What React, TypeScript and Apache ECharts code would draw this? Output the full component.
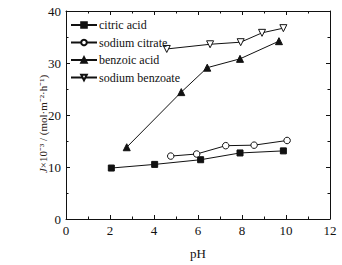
import React, { useEffect, useRef } from "react";
import * as echarts from "echarts";

const citricX = [2.06, 4.03, 6.12, 7.91, 9.88];
const citricY = [9.8, 10.5, 11.4, 12.7, 13.1];
const naCitrateX = [4.76, 5.94, 7.26, 8.55, 10.05];
const naCitrateY = [12.1, 12.5, 14.1, 14.2, 15.1];
const benzoicX = [2.76, 5.24, 6.42, 7.91, 9.68];
const benzoicY = [13.8, 24.4, 29.1, 30.8, 34.2];
const naBenzoateX = [4.58, 6.55, 7.94, 8.91, 9.88];
const naBenzoateY = [32.7, 33.6, 34.0, 35.8, 36.7];
const seriesNames = ["citric acid", "sodium citrate", "benzoic acid", "sodium benzoate"];

const zip = (xs: number[], ys: number[]) => xs.map((x, i) => [x, ys[i]]);

export default function App() {
  const ref = useRef<HTMLDivElement>(null);
  useEffect(() => {
    if (!ref.current) return;
    const chart = echarts.init(ref.current, undefined, { renderer: "svg" });
    const font = "Liberation Serif";
    const black = "#111";
    const axisCommon = {
      type: "value" as const,
      axisLine: { show: true, onZero: false, lineStyle: { color: black, width: 1 } },
      axisTick: { show: true, inside: true, length: 4, lineStyle: { color: black } },
      minorTick: { show: true, splitNumber: 2, length: 2.5, lineStyle: { color: black } },
      splitLine: { show: false },
    };
    const mk = (name: string, data: number[][], symbol: string, size: number, filled: boolean, rotate = 0) => ({
      name,
      type: "line" as const,
      data,
      symbol,
      symbolSize: size,
      symbolRotate: rotate,
      showAllSymbol: true,
      lineStyle: { color: black, width: 1 },
      itemStyle: { color: filled ? black : "#fff", borderColor: black, borderWidth: 1 },
      emphasis: { disabled: true },
    });
    chart.setOption({
      animation: false,
      textStyle: { fontFamily: font },
      grid: { left: 66, right: 12, top: 11, bottom: 41 },
      legend: {
        orient: "vertical",
        left: 70,
        top: 19,
        padding: 0,
        itemWidth: 26,
        itemHeight: 7,
        itemGap: 5.5,
        formatter: "{t|{name}}",
        textStyle: {
          fontFamily: font,
          fontSize: 12,
          color: black,
          rich: { t: { fontFamily: font, fontSize: 12, color: black, padding: [0, 0, 0, -3] } },
        },
        data: seriesNames,
      },
      xAxis: [
        {
          ...axisCommon,
          min: 0,
          max: 12,
          interval: 2,
          position: "bottom",
          axisLabel: { fontFamily: font, fontSize: 13, color: black, margin: 5 },
          name: "pH",
          nameLocation: "middle",
          nameGap: 28,
          nameTextStyle: { fontFamily: font, fontSize: 13, color: black },
        },
        {
          ...axisCommon,
          min: 0,
          max: 12,
          interval: 2,
          position: "top",
          axisLabel: { show: false },
        },
      ],
      yAxis: [
        {
          ...axisCommon,
          min: 0,
          max: 40,
          interval: 10,
          position: "left",
          axisLabel: { fontFamily: font, fontSize: 13, color: black, margin: 5 },
          name: "{i|J}×10⁻³ / (mol·m⁻²·h⁻¹)",
          nameLocation: "middle",
          nameRotate: 90,
          nameGap: 18,
          nameMoveOverlap: false,
          nameTextStyle: {
            fontFamily: font,
            fontSize: 11,
            color: "#2a2018",
            padding: [0, 18, 0, 0],
            rich: { i: { fontFamily: font, fontSize: 11, fontStyle: "italic", color: "#2a2018" } },
          },
        },
        {
          ...axisCommon,
          min: 0,
          max: 40,
          interval: 10,
          position: "right",
          axisLabel: { show: false },
        },
      ],
      series: [
        mk(seriesNames[0], zip(citricX, citricY), "rect", 6, true),
        mk(seriesNames[1], zip(naCitrateX, naCitrateY), "circle", 6.5, false),
        mk(seriesNames[2], zip(benzoicX, benzoicY), "triangle", 7, true),
        mk(seriesNames[3], zip(naBenzoateX, naBenzoateY), "triangle", 7, false, 180),
      ],
    });
    return () => chart.dispose();
  }, []);
  return <div ref={ref} style={{ width: 342, height: 265, position: "absolute", left: 0, top: 0 }} />;
}
